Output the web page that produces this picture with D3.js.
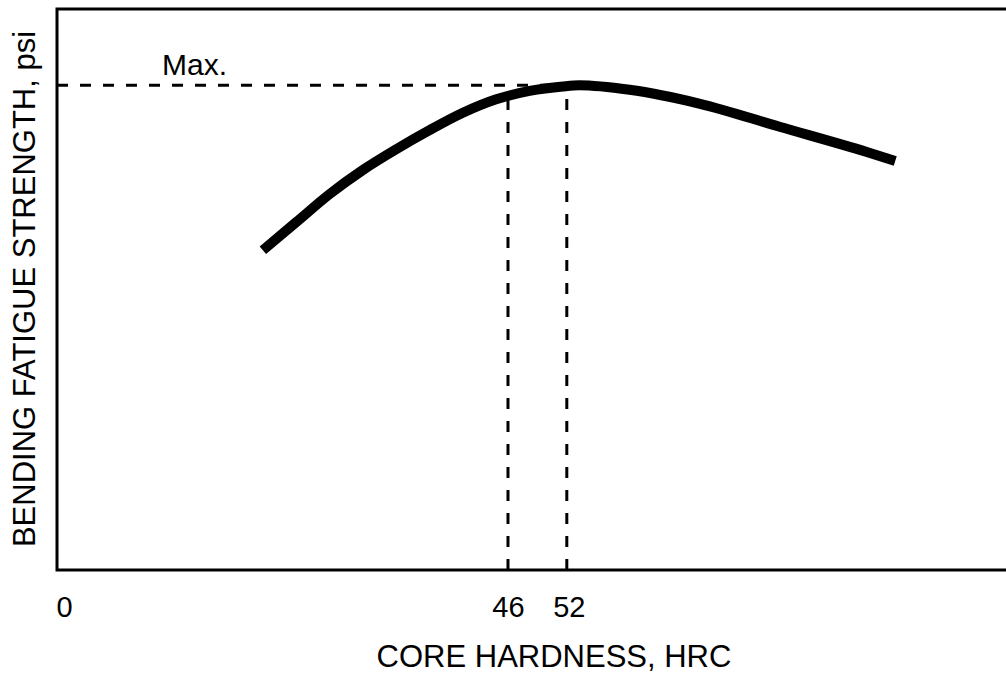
<!DOCTYPE html>
<html>
<head>
<meta charset="utf-8">
<script src="https://cdn.jsdelivr.net/npm/d3@7"></script>
<style>
  body { margin: 0; background: #fff; }
  svg { display: block; font-family: "Liberation Sans", Arial, sans-serif; }
</style>
</head>
<body>
<figure style="margin:0"></figure>
<script>
// core hardness (HRC) vs relative bending fatigue strength
const hardness = [21.0, 24.4, 27.8, 31.2, 34.6, 38.0, 41.4, 44.8, 48.2, 51.6, 53.3, 58.4, 65.6, 73.7, 82.6, 85.5];
const strength = [57.0, 62.0, 67.0, 71.3, 75.0, 78.4, 81.5, 83.9, 85.4, 86.2, 86.4, 85.6, 83.1, 79.0, 74.5, 72.9];
const tickValues = [0, 46, 52];
const markHardness = [46, 52];
const maxStrength = 86.4;
const xTitle = "CORE HARDNESS, HRC";
const yTitle = "BENDING FATIGUE STRENGTH, psi";
const maxLabel = "Max.";

const width = 1006;
const height = 674;
const plot = { left: 57, top: 9, bottom: 570, right: 1010 };

const svg = d3.select("figure")
  .append("svg")
  .attr("width", width)
  .attr("height", height);

const x = d3.scaleLinear()
  .domain([0, 97])
  .range([plot.left, plot.left + 97 * 9.804]);

const y = d3.scaleLinear()
  .domain([0, 100])
  .range([plot.bottom, plot.top]);

// frame (right side runs off the page)
svg.append("path")
  .attr("d", `M${plot.right},${plot.top}H${plot.left}V${plot.bottom}H${plot.right}`)
  .attr("fill", "none")
  .attr("stroke", "#000")
  .attr("stroke-width", 3);

// x axis tick labels
const xAxis = svg.append("g")
  .attr("class", "xAxis")
  .attr("transform", "translate(0," + plot.bottom + ")")
  .call(d3.axisBottom(x).tickValues(tickValues).tickSize(0).tickFormat(d3.format("d")));
xAxis.select(".domain").remove();
xAxis.selectAll("text")
  .attr("y", 47)
  .attr("dy", 0)
  .attr("font-size", 29)
  .attr("font-family", "Liberation Sans, Arial, sans-serif")
  .attr("fill", "#000")
  .attr("text-anchor", d => d === 0 ? "start" : "middle")
  .attr("dx", d => d === 0 ? -1 : (d === 52 ? 2 : 0));

// dashed guide lines
const dash = "11,12";
svg.append("line")
  .attr("x1", plot.left)
  .attr("x2", x(52))
  .attr("y1", y(maxStrength))
  .attr("y2", y(maxStrength))
  .attr("stroke", "#000")
  .attr("stroke-width", 3)
  .attr("stroke-dasharray", dash);

const curveAt = h => {
  const i = d3.bisectLeft(hardness, h);
  const t = (h - hardness[i - 1]) / (hardness[i] - hardness[i - 1]);
  return strength[i - 1] + t * (strength[i] - strength[i - 1]);
};

svg.selectAll(".vguide")
  .data(markHardness)
  .enter()
  .append("line")
  .attr("class", "vguide")
  .attr("x1", d => x(d))
  .attr("x2", d => x(d))
  .attr("y1", plot.bottom)
  .attr("y2", d => d === 52 ? y(maxStrength) : y(curveAt(d)))
  .attr("stroke", "#000")
  .attr("stroke-width", 3)
  .attr("stroke-dasharray", dash);

// fatigue strength curve
const line = d3.line()
  .x((d, i) => x(hardness[i]))
  .y(d => y(d))
  .curve(d3.curveMonotoneX);

svg.append("path")
  .datum(strength)
  .attr("d", line)
  .attr("fill", "none")
  .attr("stroke", "#000")
  .attr("stroke-width", 10)
  .attr("stroke-linecap", "butt");

// labels
svg.append("text")
  .attr("x", 162)
  .attr("y", 75)
  .attr("font-size", 30)
  .text(maxLabel);

svg.append("text")
  .attr("x", 554)
  .attr("y", 667)
  .attr("text-anchor", "middle")
  .attr("font-size", 31)
  .text(xTitle);

svg.append("text")
  .attr("transform", "translate(35,289) rotate(-90)")
  .attr("text-anchor", "middle")
  .attr("font-size", 31)
  .text(yTitle);
</script>
</body>
</html>
